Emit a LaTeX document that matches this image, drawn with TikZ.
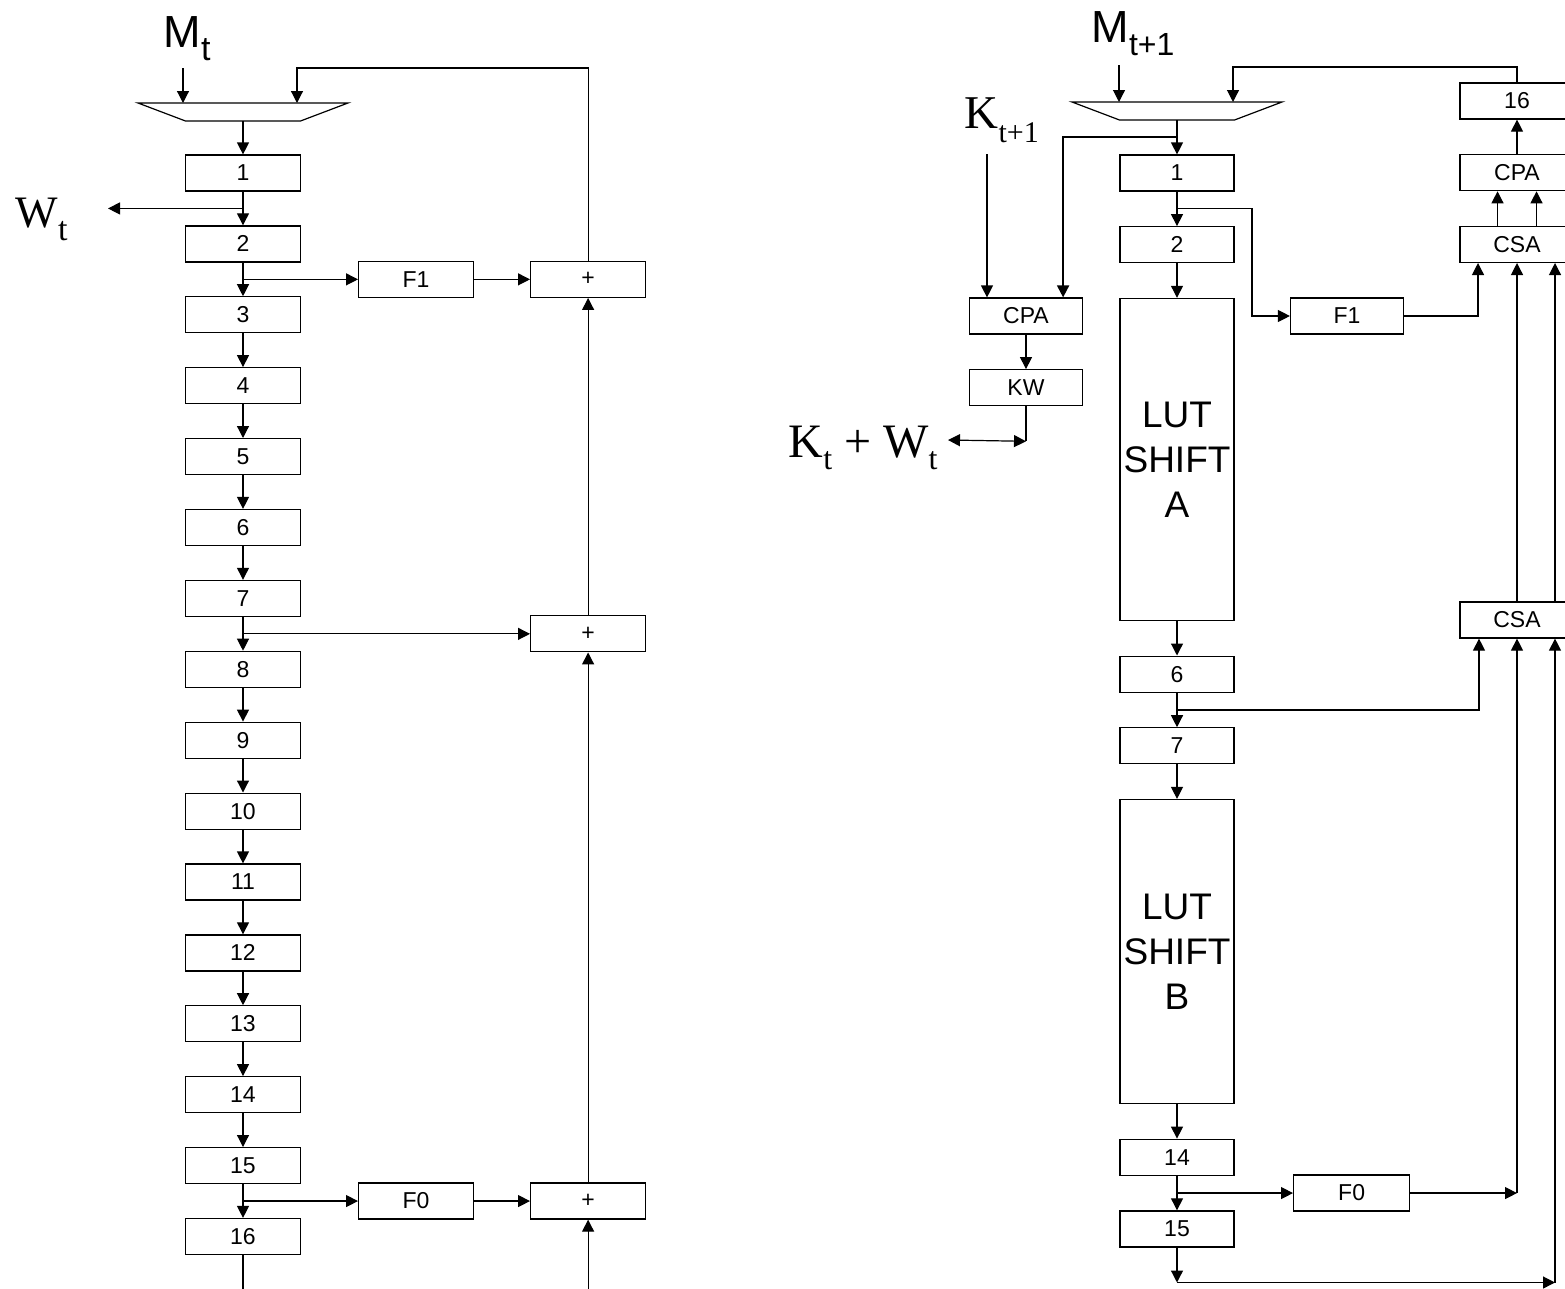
\documentclass[tikz,border=0pt]{standalone}
\usepackage{fontspec}
\setmainfont{Liberation Sans}
\newfontfamily\timesfont{Liberation Serif}
\usetikzlibrary{positioning, arrows.meta, calc}

\newcommand{\lowsub}[3]{\raisebox{-#3}{\fontsize{#1}{#1}\selectfont #2}}
\newcommand{\muxshape}[1]{\draw (#1.north west) -- (#1.north east) -- ([xshift=-47.5pt]#1.south east) -- ([xshift=47.5pt]#1.south west) -- cycle;}

\tikzset{
  reg/.style={draw, rectangle, minimum width=115pt, minimum height=36pt, inner sep=0pt, font=\fontsize{23pt}{23pt}\selectfont},
  lut/.style={reg, minimum width=114pt, align=center, font=\fontsize{37pt}{45pt}\selectfont},
  mux/.style={rectangle, minimum width=210pt, minimum height=18pt, inner sep=0pt, outer sep=0pt},
  lbl/.style={inner sep=0pt, anchor=base west},
}

\begin{document}
\begin{tikzpicture}[x=1pt, y=-1pt, line width=1.2pt, >={Triangle[length=12pt,width=12pt]}, node distance=33.7pt]
\useasboundingbox (0,0) rectangle (1565,1288);

% left half: 16 stage message schedule
\node (Mt) [lbl] at (163,47) {\fontsize{45pt}{45pt}\selectfont M\lowsub{34pt}{t}{13pt}};
\node (Wt) [lbl] at (15,227) {\timesfont\fontsize{45pt}{45pt}\selectfont W\lowsub{34pt}{t}{13pt}};
\node (muxL) [mux] at (243,112) {};
\muxshape{muxL}
\node (L1) [reg] at (243,173) {1};
\node (L2) [reg, below=of L1] {2};
\node (L3) [reg, below=of L2] {3};
\node (L4) [reg, below=of L3] {4};
\node (L5) [reg, below=of L4] {5};
\node (L6) [reg, below=of L5] {6};
\node (L7) [reg, below=of L6] {7};
\node (L8) [reg, below=of L7] {8};
\node (L9) [reg, below=of L8] {9};
\node (L10) [reg, below=of L9] {10};
\node (L11) [reg, below=of L10] {11};
\node (L12) [reg, below=of L11] {12};
\node (L13) [reg, below=of L12] {13};
\node (L14) [reg, below=of L13] {14};
\node (L15) [reg, below=of L14] {15};
\node (L16) [reg, below=of L15] {16};

\coordinate (tapL1) at ($(L1.south)!0.5!(L2.north)$);
\coordinate (tapL2) at ($(L2.south)!0.5!(L3.north)$);
\coordinate (tapL7) at ($(L7.south)!0.5!(L8.north)$);
\coordinate (tapL15) at ($(L15.south)!0.5!(L16.north)$);

\node (F1L) [reg, right=115pt of tapL2] {F1};
\node (plusA) [reg, right=287pt of tapL2] {+};
\node (plusB) [reg, right=287pt of tapL7] {+};
\node (F0L) [reg, right=115pt of tapL15] {F0};
\node (plusC) [reg, right=287pt of tapL15] {+};

\coordinate (mtin) at (183,68);
\coordinate (fbL) at (297,68);
\coordinate (inC) at ($(plusC.south)+(0,76)$);

\draw[->] (mtin) -- (mtin |- muxL.north);
\draw[->] (plusA) |- (fbL) -- (fbL |- muxL.north);
\draw[->] (muxL) -- (L1);
\draw[->] (L1) -- (L2); \draw[->] (L2) -- (L3); \draw[->] (L3) -- (L4);
\draw[->] (L4) -- (L5); \draw[->] (L5) -- (L6); \draw[->] (L6) -- (L7);
\draw[->] (L7) -- (L8); \draw[->] (L8) -- (L9); \draw[->] (L9) -- (L10);
\draw[->] (L10) -- (L11); \draw[->] (L11) -- (L12); \draw[->] (L12) -- (L13);
\draw[->] (L13) -- (L14); \draw[->] (L14) -- (L15); \draw[->] (L15) -- (L16);
\draw (L16) -- (L16 |- inC);
\draw[->] (tapL1) -- ++(-135,0);
\draw[->] (tapL2) -- (F1L);
\draw[->] (F1L) -- (plusA);
\draw[->] (tapL7) -- (plusB);
\draw[->] (tapL15) -- (F0L);
\draw[->] (F0L) -- (plusC);
\draw[->] (plusB) -- (plusA);
\draw[->] (plusC) -- (plusB);
\draw[->] (inC) -- (plusC);

% right half: look-up table version
\begin{scope}[node distance=34.5pt]
\node (Mt1) [lbl] at (1091,42) {\fontsize{45pt}{45pt}\selectfont M\lowsub{32pt}{t+1}{13pt}};
\node (Kt1) [lbl] at (964,128) {\timesfont\fontsize{47pt}{47pt}\selectfont K\lowsub{30pt}{t+1}{14pt}};
\node (KWt) [lbl] at (788,457) {\timesfont\fontsize{48pt}{48pt}\selectfont K\lowsub{32pt}{t}{12pt} + W\lowsub{32pt}{t}{12pt}};
\node (muxR) [mux] at (1177,111) {};
\muxshape{muxR}
\node (R1) [reg, minimum width=114pt] at (1177,173) {1};
\node (R2) [reg, minimum width=114pt, below=of R1] {2};
\node (lutA) [lut, minimum height=322pt, below=of R2] {LUT\\SHIFT\\A};
\node (R6) [reg, minimum width=114pt, below=of lutA] {6};
\node (R7) [reg, minimum width=114pt, below=of R6] {7};
\node (lutB) [lut, minimum height=304pt, below=of R7] {LUT\\SHIFT\\B};
\node (R14) [reg, minimum width=114pt, below=of lutB] {14};
\node (R15) [reg, minimum width=114pt, below=of R14] {15};

\node (cpaL) [reg, minimum width=113pt] at (1026,316) {CPA};
\node (kw) [reg, minimum width=113pt, below=of cpaL] {KW};

\node (b16) [reg, minimum width=114pt] at (1517,101) {16};
\node (cpaR) [reg, minimum width=114pt, below=of b16] {CPA};
\node (csaA) [reg, minimum width=114pt, below=of cpaR] {CSA};
\node (csaB) [reg, minimum width=114pt] at (1517,620) {CSA};
\node (f1R) [reg, minimum width=113pt] at (1347,316) {F1};

\coordinate (tapK) at ($(muxR.south)!0.5!(R1.north)$);
\coordinate (tapR1) at ($(R1.south)!0.5!(R2.north)$);
\coordinate (tapR6) at ($(R6.south)!0.5!(R7.north)$);
\coordinate (tapR14) at ($(R14.south)!0.5!(R15.north)$);
\node (f0R) [reg, minimum width=116pt, right=116pt of tapR14] {F0};

\coordinate (m1in) at (1119,65);
\coordinate (fbR) at (1233,67);
\coordinate (kin) at (987,154);
\coordinate (cpaIn) at ($(cpaL.north east)+(-20,0)$);
\coordinate (kwend) at ($(kw.south)+(0,35)$);
\coordinate (kwtip) at (948,440);
\coordinate (f0out) at (f0R -| csaB);
\coordinate (csaBin3) at ([xshift=38pt]csaB.south);
\coordinate (botL) at ($(R15.south)+(0,35)$);
\coordinate (botR) at (csaBin3 |- botL);

\draw[->] (m1in) -- (m1in |- muxR.north);
\draw[->] (b16) |- (fbR) -- (fbR |- muxR.north);
\draw[->] (muxR) -- (R1);
\draw[->, line width=1.8pt] (tapK) -| (cpaIn);
\draw[->] (kin) -- (kin |- cpaL.north);
\draw[->] (cpaL) -- (kw);
\draw[line width=1.8pt] (kw.south) -- (kwend);
\draw[<->] (kwtip) -- (kwend);

\draw[->] (R1) -- (R2); \draw[->] (R2) -- (lutA); \draw[->] (lutA) -- (R6);
\draw[->] (R6) -- (R7); \draw[->] (R7) -- (lutB); \draw[->] (lutB) -- (R14);
\draw[->] (R14) -- (R15);

\draw[->] (tapR1) -- ++(75,0) |- (f1R);
\draw[->] (f1R) -| ([xshift=-39pt]csaA.south);
\draw[->] ([xshift=-19.5pt]csaA.north) -- ([xshift=-19.5pt]cpaR.south);
\draw[->] ([xshift=19.5pt]csaA.north) -- ([xshift=19.5pt]cpaR.south);
\draw[->] (cpaR) -- (b16);
\draw[->] (csaB) -- (csaA);
\draw[->] ([xshift=38pt]csaB.north) -- ([xshift=38pt]csaA.south);
\draw[->] (tapR6) -| ([xshift=-38pt]csaB.south);
\draw[->] (tapR14) -- (f0R);
\draw[->] (f0R) -- (f0out);
\draw[->] (f0out) -- (csaB.south);
\draw[->] (R15) -- (botL);
\draw[->] (botL) -- (botR);
\draw[->] (botR) -- (csaBin3);
\end{scope}
\end{tikzpicture}
\end{document}
